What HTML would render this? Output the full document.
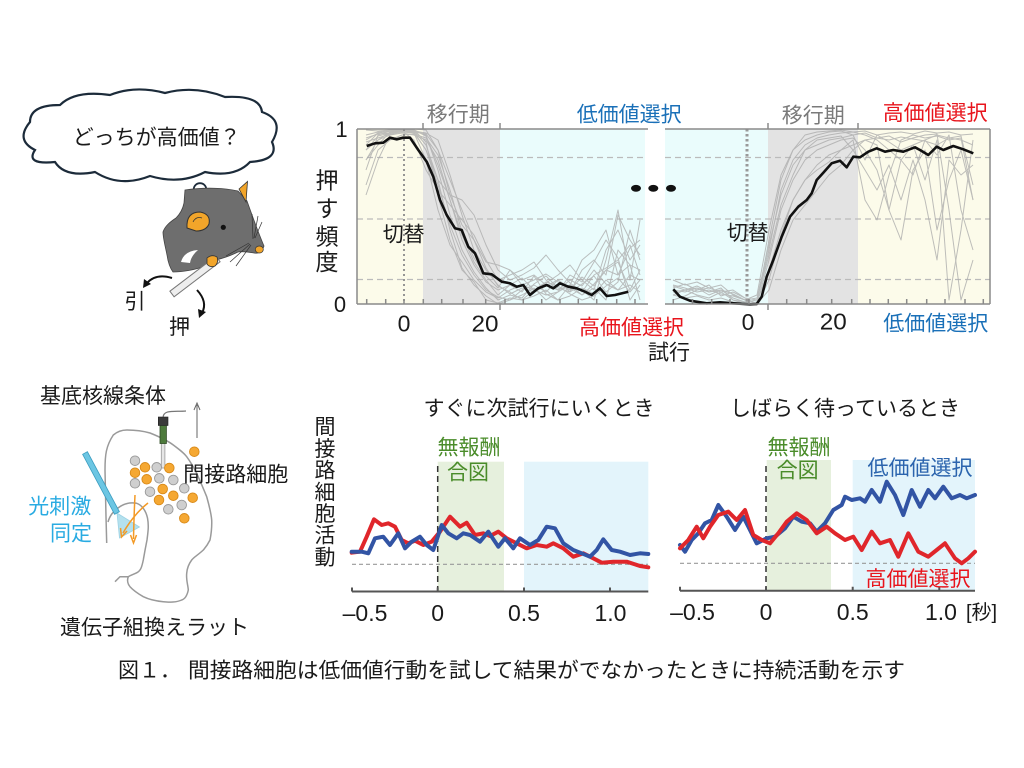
<!DOCTYPE html>
<html><head><meta charset="utf-8">
<style>
html,body{margin:0;padding:0;background:#fff;width:1024px;height:768px;overflow:hidden}
svg{display:block}
text{font-family:"Liberation Sans","Noto Sans CJK JP",sans-serif;fill:#1a1a1a}
</style></head>
<body>
<svg width="1024" height="768" viewBox="0 0 1024 768" xmlns="http://www.w3.org/2000/svg">
<rect width="1024" height="768" fill="#fff"/>

<!-- ===== Cloud + rat ===== -->
<path d="M35,150 Q15,140 30,122 Q30,105 60,105 Q75,90 110,95 Q135,85 165,93 Q195,85 225,97 Q260,95 262,112 Q285,120 272,142 Q280,160 250,162 Q235,178 205,172 Q180,185 150,176 Q120,188 95,172 Q65,178 55,162 Q25,165 35,150 Z" fill="#fff" stroke="#1c2b3a" stroke-width="2.2"/>
<text x="72.7" y="144.3" font-size="21">どっちが高価値？</text>
<circle cx="200" cy="189.5" r="6.3" fill="#fff" stroke="#1c2b3a" stroke-width="1.8"/>
<circle cx="210" cy="200" r="4.2" fill="#fff" stroke="#1c2b3a" stroke-width="1.6"/>
<circle cx="216" cy="207.5" r="2.5" fill="#fff" stroke="#1c2b3a" stroke-width="1.4"/>

<path d="M185,190 C205,187 225,188 238,191 L247,201 C252,215 258,232 264,246 C262,252 258,254 254,253 C248,252 243,251 238,252 C232,255 224,258 216,260 L205,266 C195,270 182,272 173,272 C170,268 168,262 167,255 C165,245 163,238 163,232 C165,226 170,222 176,218 C180,214 183,208 184,203 Z" fill="#6e6e6e" stroke="#444" stroke-width="0.8"/>
<path d="M181,262 Q184,251 198,250 Q191,256 190,263 Z" fill="#fff"/>
<path d="M187,228 Q186,212 200,212 Q211,214 209,224 Q206,231 196,231 Z" fill="#f2a52a" stroke="#333" stroke-width="1"/>
<path d="M193,222 Q196,216 202,218" fill="none" stroke="#333" stroke-width="0.8"/>
<polygon points="239,189 247.5,181.5 246,202" fill="#f2a52a" stroke="#333" stroke-width="0.8"/>
<circle cx="223.3" cy="227.3" r="2.6" fill="#111"/>
<ellipse cx="259.3" cy="249.5" rx="4" ry="3.5" fill="#f2a52a" stroke="#333" stroke-width="0.7"/>
<g stroke="#333" stroke-width="0.7" fill="none">
<path d="M250,244 L230,262"/><path d="M251,245 L236,266"/><path d="M249,243 L226,256"/>
<path d="M254,238 L258,216"/><path d="M255,238 L262,222"/><path d="M253,239 L252,214"/>
</g>
<polygon points="169.9,291.2 215.9,256.2 220.1,261.8 174.1,296.8" fill="#eee" stroke="#777" stroke-width="1"/>
<path d="M207,258 Q212,254 217,257 Q219,262 215,266 Q210,268 207,264 Z" fill="#f2a52a" stroke="#333" stroke-width="0.8"/>
<!-- arrows -->
<path d="M172,278 Q156,273 147,283" fill="none" stroke="#111" stroke-width="2"/>
<polygon points="143,288 144,279 151,284" fill="#111"/>
<path d="M197,290 Q208,302 202,313" fill="none" stroke="#111" stroke-width="2"/>
<polygon points="199,318 198,309 206,312" fill="#111"/>
<text x="124.5" y="308.5" font-size="21">引</text>
<text x="169" y="334" font-size="21">押</text>

<!-- ===== Top charts backgrounds ===== -->
<rect x="357" y="129" width="66" height="175" fill="#fcfbea"/>
<rect x="423" y="129" width="77" height="175" fill="#e3e3e3"/>
<rect x="500" y="129" width="145" height="175" fill="#eafcfc"/>
<rect x="665" y="129" width="103" height="175" fill="#eafcfc"/>
<rect x="768" y="129" width="90" height="175" fill="#e3e3e3"/>
<rect x="858" y="129" width="132" height="175" fill="#fcfbea"/>

<g stroke="#bbb" stroke-width="1.2" stroke-dasharray="6,4">
<line x1="357" y1="157.5" x2="645" y2="157.5"/><line x1="357" y1="219" x2="645" y2="219"/><line x1="357" y1="279.5" x2="645" y2="279.5"/>
<line x1="665" y1="157.5" x2="990" y2="157.5"/><line x1="665" y1="219" x2="990" y2="219"/><line x1="665" y1="279.5" x2="990" y2="279.5"/>
</g>

<!-- gray traces left -->
<g fill="none" stroke="#a9a9a9" stroke-width="1" opacity="0.75" stroke-linejoin="round">
<polyline points="366,140 378,133 390,131 402,130 414,132 426,150 438,185 450,225 462,255 474,275 486,290 498,297 510,300 522,290 534,285 546,292 558,280 570,288 582,295 594,284 606,270 618,262 630,290 640,270"/>
<polyline points="366,150 378,140 390,135 402,133 414,135 426,140 438,160 450,200 462,240 474,265 486,282 498,290 510,285 522,278 534,290 546,283 558,275 570,265 582,280 594,290 606,250 618,230 630,260 640,245"/>
<polyline points="366,160 378,145 390,132 402,131 414,130 426,135 438,170 450,215 462,250 474,272 486,288 498,300 510,295 522,298 534,284 546,276 558,288 570,292 582,270 594,260 606,275 618,215 630,240 640,255"/>
<polyline points="366,185 378,150 390,140 402,135 414,134 426,138 438,155 450,190 462,232 474,258 486,276 498,288 510,270 522,280 534,275 546,285 558,290 570,280 582,286 594,270 606,284 618,290 630,275 640,280"/>
<polyline points="366,135 378,132 390,130 402,130 414,131 426,145 438,180 450,230 462,268 474,285 486,296 498,304 510,300 522,295 534,288 546,300 558,292 570,285 582,290 594,300 606,260 618,210 630,280 640,220"/>
<polyline points="366,142 378,138 390,134 402,132 414,133 426,160 438,210 450,245 462,262 474,280 486,292 498,298 510,290 522,285 534,280 546,274 558,282 570,290 582,277 594,286 606,270 618,275 630,265 640,270"/>
<polyline points="366,150 378,136 390,133 402,131 414,140 426,170 438,190 450,205 462,220 474,235 486,260 498,280 510,275 522,270 534,262 546,280 558,290 570,285 582,260 594,250 606,230 618,275 630,248 640,240"/>
<polyline points="366,130 378,131 390,130 402,132 414,131 426,133 438,140 450,175 462,215 474,250 486,270 498,285 510,294 522,288 534,292 546,286 558,280 570,292 582,284 594,276 606,292 618,282 630,230 640,260"/>
<polyline points="366,170 378,135 390,131 402,130 414,132 426,134 438,150 450,180 462,210 474,240 486,268 498,286 510,292 522,300 534,296 546,290 558,300 570,296 582,288 594,294 606,280 618,290 630,285 640,292"/>
<polyline points="366,138 378,134 390,133 402,131 414,130 426,136 438,165 450,200 462,235 474,262 486,280 498,295 510,285 522,292 534,276 546,294 558,300 570,285 582,295 594,288 606,300 618,250 630,265 640,300"/>
<polyline points="366,160 378,140 390,132 402,130 414,133 426,150 438,180 450,195 462,200 474,215 486,245 498,270 510,280 522,275 534,268 546,255 558,270 570,283 582,292 594,275 606,268 618,260 630,245 640,275"/>
<polyline points="366,145 378,133 390,131 402,130 414,130 426,142 438,196 450,240 462,270 474,282 486,300 498,303 510,298 522,300 534,290 546,282 558,286 570,294 582,300 594,296 606,286 618,278 630,292 640,280"/>
<polyline points="366,195 378,160 390,135 402,130 414,129 426,130 438,150 450,195 462,225 474,240 486,262 498,265 510,270 522,285 534,290 546,295 558,292 570,275 582,282 594,262 606,240 618,258 630,300 640,285"/>
</g>
<!-- gray traces right -->
<g fill="none" stroke="#a9a9a9" stroke-width="1" opacity="0.75" stroke-linejoin="round">
<polyline points="673,290 685,292 697,288 709,295 721,290 733,298 745,302 757,300 769,250 781,190 793,160 805,145 817,138 829,135 841,133 853,132 865,135 877,140 889,150 901,160 913,175 925,140 937,135 949,138 961,140 973,145"/>
<polyline points="673,285 685,288 697,292 709,290 721,294 733,296 745,300 757,295 769,230 781,175 793,150 805,140 817,135 829,132 841,131 853,135 865,133 877,138 889,136 901,142 913,138 925,135 937,134 949,210 961,300 973,260"/>
<polyline points="673,295 685,290 697,286 709,292 721,288 733,300 745,304 757,302 769,270 781,230 793,200 805,180 817,170 829,162 841,150 853,140 865,200 877,220 889,175 901,140 913,135 925,138 937,136 949,140 961,138 973,200"/>
<polyline points="673,280 685,285 697,282 709,288 721,292 733,290 745,298 757,304 769,260 781,210 793,180 805,160 817,150 829,145 841,140 853,138 865,150 877,170 889,210 901,160 913,145 925,140 937,155 949,135 961,210 973,250"/>
<polyline points="673,300 685,296 697,290 709,288 721,285 733,295 745,300 757,303 769,240 781,180 793,150 805,135 817,132 829,131 841,130 853,132 865,131 877,135 889,133 901,132 913,134 925,131 937,133 949,132 961,135 973,134"/>
<polyline points="673,292 685,290 697,295 709,298 721,292 733,300 745,302 757,304 769,290 781,250 793,220 805,205 817,190 829,175 841,165 853,150 865,140 877,145 889,210 901,240 913,170 925,150 937,230 949,180 961,150 973,200"/>
<polyline points="673,288 685,284 697,290 709,285 721,296 733,292 745,298 757,300 769,255 781,205 793,175 805,150 817,145 829,140 841,138 853,135 865,160 877,135 889,142 901,150 913,145 925,180 937,140 949,300 961,230 973,140"/>
<polyline points="673,295 685,298 697,296 709,300 721,298 733,302 745,304 757,305 769,280 781,235 793,200 805,180 817,165 829,155 841,150 853,145 865,140 877,138 889,140 901,137 913,139 925,141 937,145 949,138 961,136 973,185"/>
<polyline points="673,286 685,290 697,288 709,292 721,290 733,294 745,300 757,298 769,245 781,195 793,165 805,150 817,140 829,138 841,136 853,150 865,170 877,190 889,165 901,200 913,160 925,200 937,260 949,160 961,175 973,165"/>
</g>

<!-- switch lines -->
<line x1="404" y1="129" x2="404" y2="304" stroke="#8a8a8a" stroke-width="1.8" stroke-dasharray="2,3"/>
<line x1="747" y1="129" x2="747" y2="304" stroke="#999" stroke-width="3" stroke-dasharray="2.5,2.5"/>

<!-- mean lines -->
<polyline fill="none" stroke="#111" stroke-width="2.6" stroke-linejoin="round" points="366.7,146 375,143.3 383.3,142.7 390,137.7 396.7,139.3 403.3,137.7 410,137.7 418.3,150 426.7,161.7 433.3,176.7 440,200 446.7,215 455,228.3 461.7,230 468.3,246.7 475,253.3 483.3,273.3 491.7,274.3 501.7,281.7 510,283.3 516.7,286.7 523.3,285 530,295 538.3,288.3 546.7,285 553.3,288.3 560,283.3 568.3,286.7 576.7,288.3 585,291.7 591.7,295 600,288.3 606.7,296 615,295 628.3,291.7"/>
<polyline fill="none" stroke="#111" stroke-width="2.6" stroke-linejoin="round" points="673.3,289.3 680,296.7 690,300.7 706.7,303.3 720,302.3 733.3,303.3 750,304.3 756.7,304 761.7,296.7 766.7,276.7 773.3,260 781.7,236.7 790,216.7 798.3,206.7 806.7,200 811.7,193.3 816.7,180 823.3,172.7 831.7,163.3 840,160.7 846.7,167.3 853.3,156.7 860,157.3 868.3,151.7 876.7,148.3 885,151.7 893.3,150 903.3,151.7 915,147.3 920,150 928.3,155 936.7,146.7 943.3,150 953.3,146 963.3,149.3 973.3,153.3"/>

<!-- axes top charts -->
<g stroke="#8a8a8a" stroke-width="1.5" fill="none">
<line x1="357" y1="129" x2="357" y2="304"/>
<line x1="357" y1="129" x2="648" y2="129"/>
<line x1="357" y1="304" x2="648" y2="304"/>
<line x1="665" y1="129" x2="990" y2="129"/>
<line x1="665" y1="304" x2="990" y2="304"/>
<line x1="990" y1="129" x2="990" y2="304"/>
<line x1="423" y1="129" x2="423" y2="123"/><line x1="500" y1="129" x2="500" y2="123"/>
<line x1="768" y1="129" x2="768" y2="123"/><line x1="858" y1="129" x2="858" y2="123"/>
<line x1="500" y1="304" x2="500" y2="310"/><line x1="768" y1="304" x2="768" y2="310"/>
<path d="M366.7,304v-5M385.7,304v-5M404,304v-5M423.3,304v-5M441.7,304v-5M463,304v-5M485.7,304v-5M505,304v-5M523.3,304v-5M541.7,304v-5M560,304v-5M578.3,304v-5M596.7,304v-5M616.7,304v-5M635,304v-5"/>
<path d="M673.3,304v-5M692.5,304v-5M711.7,304v-5M730,304v-5M749,304v-5M786.7,304v-5M806.7,304v-5M831.7,304v-5M851.7,304v-5M870,304v-5M888.3,304v-5M906.7,304v-5M926.7,304v-5M945,304v-5M965,304v-5M983.3,304v-5"/>
</g>
<ellipse cx="636" cy="188.3" rx="5" ry="3.4" fill="#111"/>
<ellipse cx="653.3" cy="188.3" rx="5" ry="3.4" fill="#111"/>
<ellipse cx="671" cy="188.3" rx="5" ry="3.4" fill="#111"/>

<!-- top chart text -->
<text x="341.5" y="137" font-size="22" text-anchor="middle">1</text>
<text x="340" y="312" font-size="22" text-anchor="middle">0</text>
<text x="404" y="331.5" font-size="23" text-anchor="middle">0</text>
<text x="485" y="331.5" font-size="23" text-anchor="middle" textLength="27" lengthAdjust="spacingAndGlyphs">20</text>
<text x="748" y="330" font-size="23" text-anchor="middle">0</text>
<text x="833.3" y="329.5" font-size="23" text-anchor="middle" textLength="27" lengthAdjust="spacingAndGlyphs">20</text>
<text x="327" y="188.5" font-size="23" text-anchor="middle">押</text>
<text x="327" y="216.5" font-size="23" text-anchor="middle">す</text>
<text x="327" y="244.5" font-size="23" text-anchor="middle">頻</text>
<text x="327" y="270" font-size="23" text-anchor="middle">度</text>
<text x="458.3" y="121.5" font-size="21" text-anchor="middle" style="fill:#7a7a7a">移行期</text>
<text x="813.3" y="122.5" font-size="21" text-anchor="middle" style="fill:#7a7a7a">移行期</text>
<text x="576.7" y="121.5" font-size="21" style="fill:#1a70b8">低価値選択</text>
<text x="882.7" y="120" font-size="21" style="fill:#e8141c">高価値選択</text>
<text x="579" y="334.3" font-size="21" style="fill:#e8141c">高価値選択</text>
<text x="883.3" y="330.5" font-size="21" style="fill:#1a70b8">低価値選択</text>
<text x="648" y="359.3" font-size="21">試行</text>
<text x="382.7" y="241.5" font-size="21">切替</text>
<text x="726.7" y="240" font-size="21">切替</text>

<!-- ===== Bottom-left diagram ===== -->
<text x="40" y="403" font-size="21">基底核線条体</text>
<path d="M106.7,543 L106,516.7 L105,470 C105,455 106,446 113.3,435 C118,431 122,430 126.7,430 C135,430 143,431 150,433 C160,437 168,441 173.3,445 C180,450 184,453 186.7,456.7 C192,464 194,468 196.7,473.3 C201,483 204,490 206.7,496.7 C209,505 211,512 211.7,520 C212,528 211,535 210,540 C207,546 205,548 203.3,550 C198,555 194,557 191.7,560 C188,565 187,569 186.7,573.3 C186,580 188,585 188.3,590 C187,596 185,599 181.7,600 C175,603 168,602 163.3,601.7 C155,601 148,599 143.3,596.7 C137,593 133,590 130,586.7 C127,583 127,580 128.3,576.7 L120,576.7 L115,581.7" fill="none" stroke="#9a9a9a" stroke-width="1.5"/>
<path d="M108,522 C110,515 113,512 118,508 C123,504 129,502 136.7,503.3 C142,505 146,511 147.5,518 C149,526 148,532 147,540 C145,550 144,556 143.3,560 C142,566 141,570 138,572 C135,574 131,575 128.3,576.7" fill="none" stroke="#9a9a9a" stroke-width="1.5"/>
<!-- electrode -->
<path d="M163,418 C163,409 175,412 186,411" fill="none" stroke="#777" stroke-width="1.2"/>
<rect x="161.3" y="443" width="3.6" height="25" fill="#e6e6e6" stroke="#999" stroke-width="0.8"/>
<rect x="160" y="425" width="6.4" height="18.5" fill="#4d7a3c" stroke="#2d4a22" stroke-width="0.8"/>
<rect x="158.3" y="417" width="9.7" height="8.5" fill="#3a3a3a" stroke="#222" stroke-width="0.6"/>
<line x1="197" y1="438" x2="197" y2="405" stroke="#666" stroke-width="1"/>
<path d="M194,410 L197,403 L200,410" fill="none" stroke="#666" stroke-width="1"/>
<!-- cells -->
<g fill="#cfcfcf" stroke="#999" stroke-width="0.9">
<circle cx="135" cy="460.7" r="4.8"/><circle cx="156.7" cy="467.3" r="4.8"/><circle cx="135" cy="483.3" r="4.8"/>
<circle cx="159.3" cy="478.3" r="4.8"/><circle cx="173.3" cy="480" r="4.8"/><circle cx="150" cy="491.7" r="4.8"/>
<circle cx="184.3" cy="488.3" r="4.8"/><circle cx="168.3" cy="509.3" r="4.8"/><circle cx="181.7" cy="505" r="4.8"/>
</g>
<g fill="#f5a833" stroke="#d98a18" stroke-width="0.9">
<circle cx="194.3" cy="451.7" r="4.8"/><circle cx="145" cy="467.3" r="4.8"/><circle cx="169.3" cy="468" r="4.8"/>
<circle cx="135" cy="472.7" r="4.8"/><circle cx="146.7" cy="479.3" r="4.8"/><circle cx="162.7" cy="489" r="4.8"/>
<circle cx="173.3" cy="495.7" r="4.8"/><circle cx="159" cy="500" r="4.8"/><circle cx="192.7" cy="497.7" r="4.8"/>
<circle cx="184.3" cy="518.3" r="4.8"/>
</g>
<!-- fiber -->
<polygon points="117,513 119.5,538 139.5,527" fill="#a8dcec" stroke="#8ccbe0" stroke-width="0.8" opacity="0.85"/>
<polygon points="82.6,454.3 87.4,451.7 119.4,511.7 114.6,514.3" fill="#6cc6e3" stroke="#3a9cc0" stroke-width="0.8"/>
<!-- orange arrows -->
<path d="M135,495 Q134,515 133.5,539" fill="none" stroke="#f39a26" stroke-width="1.5"/>
<path d="M130.5,535 L133.5,543 L136.5,535" fill="none" stroke="#f39a26" stroke-width="1.5"/>
<path d="M148,503 Q134,514 123,533" fill="none" stroke="#f39a26" stroke-width="1.5"/>
<path d="M120.5,528 L121.5,537 L127,531" fill="none" stroke="#f39a26" stroke-width="1.5"/>
<text x="183.3" y="481.5" font-size="21">間接路細胞</text>
<text x="28.3" y="513.5" font-size="21" style="fill:#29abe2">光刺激</text>
<text x="50" y="540.5" font-size="21" style="fill:#29abe2">同定</text>
<text x="60" y="634.5" font-size="21">遺伝子組換えラット</text>

<!-- ===== Bottom charts ===== -->
<rect x="437.7" y="461.7" width="66.3" height="129.5" fill="#e6f0dd"/>
<rect x="524" y="461.7" width="124.3" height="129.5" fill="#e3f4fb"/>
<rect x="766.7" y="460" width="64.3" height="130.5" fill="#e6f0dd"/>
<rect x="852.7" y="460" width="122.3" height="130.5" fill="#e3f4fb"/>

<line x1="352" y1="564.3" x2="648" y2="564.3" stroke="#999" stroke-width="1.2" stroke-dasharray="4,3"/>
<line x1="680" y1="563.3" x2="975" y2="563.3" stroke="#999" stroke-width="1.2" stroke-dasharray="4,3"/>
<line x1="437.7" y1="466" x2="437.7" y2="591" stroke="#333" stroke-width="1.5" stroke-dasharray="6,4"/>
<line x1="766" y1="466" x2="766" y2="590" stroke="#333" stroke-width="1.5" stroke-dasharray="6,4"/>

<g fill="none" stroke-width="4" stroke-linejoin="round" stroke-linecap="round">
<polyline stroke="#e0262b" points="351.7,552.7 360,551.7 366.7,536.7 374,519.3 381.7,525 388.3,523.3 395,526.7 401.7,540 408.3,543.3 415,540.7 423.3,545 431.7,541.7 440,531.7 450,516.7 460,526.7 466.7,522.7 475,535 483.3,533.3 490,536 498.3,531.7 506.7,538.3 516.7,543.3 526.7,548.3 536.7,545 546.7,546.7 553.3,543.3 563.3,548.3 573.3,556.7 583.3,553.3 593.3,558.3 601.7,562.7 613.3,561.7 626.7,561.7 640,566 648.3,567.3"/>
<polyline stroke="#3254a4" points="351.7,551.7 361.7,551.7 368.3,553.3 375,538.3 383.3,536.7 390,545 398.3,533.3 405,548.3 411.7,541.7 420,536.7 426.7,545 433.3,550 441.7,525 448.3,533.3 456.7,538.3 463.3,533.3 470,535 480,541.7 488.3,531.7 498.3,546.7 505,538.3 513.3,548.3 520,538.3 530,545 538.3,540 546.7,526.7 555,528.3 563.3,543.3 573.3,550 581.7,553.3 590,556.7 596.7,550 603.3,539.3 611.7,550 620,551.7 630,555 640,553.3 648.3,554"/>
<polyline stroke="#3254a4" points="680,545 685,551.7 691.7,540 698.3,533.3 705,523.3 711.7,520 718.3,505 726.7,516.7 735,530 743.3,516.7 750,530 756.7,543.3 766.7,538.3 775,536.7 785,528.3 793.3,516.7 801.7,521.7 810,523.3 816.7,531.7 825,523.3 833.3,510 841.7,505 845,496.7 851.7,500 860,498.3 865,501.7 871.7,490 880,501.7 886.7,481.7 895,495 903.3,515 911.7,490 920,506.7 928.3,490 935,498.3 943.3,486.7 951.7,498.3 960,495 966.7,498.3 975,495"/>
<polyline stroke="#e0262b" points="680,548.3 688.3,540 696.7,526.7 703.3,538.3 710,526.7 718.3,515 728.3,511.7 736.7,520 745,510 753.3,535 761.7,540 770,543.3 778.3,533.3 786.7,521.7 796.7,513.3 806.7,520 816.7,533.3 826.7,526.7 835,533.3 845,540 853.3,536.7 861.7,550 871.7,531.7 880,543.3 890,540 898.3,556.7 908.3,533.3 918.3,551.7 928.3,556.7 936.7,550 945,543.3 955,558.3 961.7,563.3 968.3,558.3 975,551.7"/>
</g>

<g stroke="#555" stroke-width="2" fill="none">
<line x1="352" y1="591.5" x2="648.3" y2="591.5"/>
<path d="M352,591.5v-4M437.7,591.5v-4M524,591.5v-4M610,591.5v-4"/>
<line x1="680" y1="590.7" x2="975" y2="590.7"/>
<path d="M680,590.7v-4M766,590.7v-4M852.7,590.7v-4M939.3,590.7v-4"/>
</g>

<text x="365" y="621" font-size="23" text-anchor="middle">–0.5</text>
<text x="437.7" y="621" font-size="23" text-anchor="middle">0</text>
<text x="524" y="621" font-size="23" text-anchor="middle">0.5</text>
<text x="610.5" y="621" font-size="23" text-anchor="middle">1.0</text>
<text x="692.5" y="620" font-size="23" text-anchor="middle">–0.5</text>
<text x="766" y="620" font-size="23" text-anchor="middle">0</text>
<text x="852.7" y="620" font-size="23" text-anchor="middle">0.5</text>
<text x="941" y="620" font-size="23" text-anchor="middle">1.0</text>
<text x="966" y="619" font-size="20">[秒]</text>

<text x="539" y="415.6" font-size="21" text-anchor="middle">すぐに次試行にいくとき</text>
<text x="845" y="415.6" font-size="21" text-anchor="middle">しばらく待っているとき</text>

<g font-size="21" text-anchor="middle">
<text x="325" y="434.2">間</text><text x="325" y="455.9">接</text><text x="325" y="477.6">路</text>
<text x="325" y="499.3">細</text><text x="325" y="521">胞</text><text x="325" y="542.7">活</text><text x="325" y="564.4">動</text>
</g>

<text x="469" y="454.3" font-size="21" text-anchor="middle" style="fill:#4a8c2a">無報酬</text>
<text x="468" y="479.3" font-size="21" text-anchor="middle" style="fill:#4a8c2a">合図</text>
<text x="799" y="454.3" font-size="21" text-anchor="middle" style="fill:#4a8c2a">無報酬</text>
<text x="797.6" y="477.6" font-size="21" text-anchor="middle" style="fill:#4a8c2a">合図</text>
<text x="920" y="475" font-size="21" text-anchor="middle" style="fill:#2b64ad">低価値選択</text>
<text x="918" y="586" font-size="21" text-anchor="middle" style="fill:#e8141c">高価値選択</text>

<!-- caption -->
<text x="118" y="677.5" font-size="21">図１．</text>
<text x="188" y="677.5" font-size="21" textLength="717" lengthAdjust="spacingAndGlyphs">間接路細胞は低価値行動を試して結果がでなかったときに持続活動を示す</text>
</svg>
</body></html>
